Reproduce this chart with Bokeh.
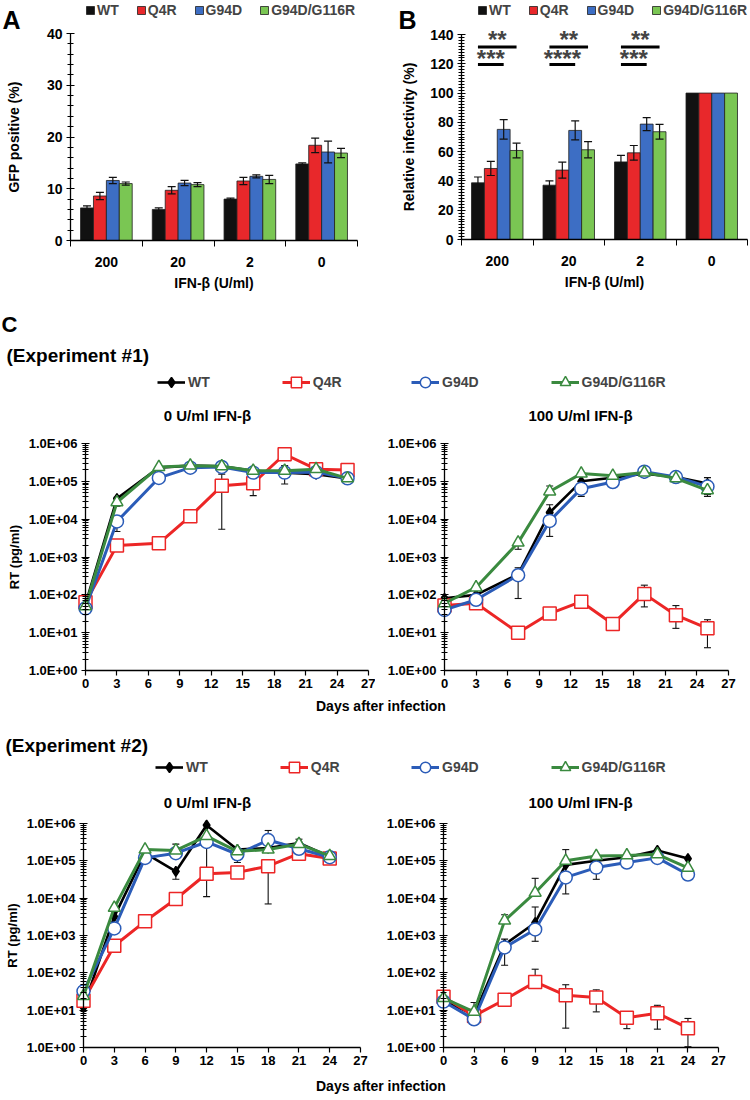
import math
from bokeh.plotting import figure
from bokeh.models import (ColumnDataSource, Whisker, TeeHead, Legend, LegendItem, Label,
                          FixedTicker, CustomJSTickFormatter, Range1d, Div)
from bokeh.layouts import column, row
from bokeh.embed import file_html
from bokeh.resources import INLINE

FONT = "Liberation Sans"

# ---------------- data: panels A and B ----------------
doses = ["200", "20", "2", "0"]
strains = ["WT", "Q4R", "G94D", "G94D/G116R"]

gfp_wt = [6.3, 6.0, 8.0, 14.8]
gfp_wt_err = [0.4, 0.3, 0.2, 0.2]
gfp_q4r = [8.6, 9.7, 11.5, 18.4]
gfp_q4r_err = [0.7, 0.7, 0.7, 1.4]
gfp_g94d = [11.6, 11.1, 12.4, 17.1]
gfp_g94d_err = [0.6, 0.5, 0.3, 2.1]
gfp_dbl = [11.0, 10.8, 11.8, 16.9]
gfp_dbl_err = [0.3, 0.4, 0.8, 0.9]

inf_wt = [38.7, 37.1, 53.0, 100]
inf_wt_err = [4.0, 3.0, 4.5, 0]
inf_q4r = [48.5, 47.4, 59.2, 100]
inf_q4r_err = [4.8, 5.5, 5.0, 0]
inf_g94d = [75.2, 74.5, 78.8, 100]
inf_g94d_err = [6.6, 6.5, 4.5, 0]
inf_dbl = [60.8, 61.3, 73.6, 100]
inf_dbl_err = [5.0, 5.5, 5.0, 0]

sig_groups = [0, 1, 2]
sig_upper_text = ["**", "**", "**"]
sig_lower_text = ["***", "****", "***"]

# ---------------- data: panel C ----------------
days1 = [0, 3, 7, 10, 13, 16, 19, 22, 25]
days2 = [0, 3, 6, 9, 12, 15, 18, 21, 24]

e1_0_wt = [57, 3.5e4, 2.3e5, 2.6e5, 2.5e5, 1.9e5, 1.7e5, 1.55e5, 1.2e5]
e1_0_q4r = [64, 2.0e3, 2.3e3, 1.2e4, 7.6e4, 8.9e4, 5.2e5, 2.1e5, 2.0e5]
e1_0_g94d = [44, 8.7e3, 1.23e5, 2.3e5, 2.4e5, 1.7e5, 1.7e5, 1.75e5, 1.2e5]
e1_0_dbl = [50, 2.8e4, 2.4e5, 2.6e5, 2.5e5, 1.9e5, 1.9e5, 2.1e5, 1.2e5]
e1_0_wt_err = [None, (2.2e4, 3.8e4), None, None, None, None, (8.5e4, 2.6e5), (1.35e5, None), None]
e1_0_q4r_err = [None, None, (1.6e3, None), None, (5.4e3, 1.55e5), (4.2e4, None), None, None, None]
e1_0_g94d_err = [None, (4.7e3, None), None, None, None, None, None, None, None]
e1_0_dbl_err = [None] * 9

e1_100_wt = [81, 100, 3.5e2, 1.5e4, 1.0e5, 1.25e5, 1.6e5, 1.3e5, 8.7e4]
e1_100_q4r = [52, 60, 10, 32, 66, 17, 106, 29, 13]
e1_100_g94d = [40, 74, 3.3e2, 9.0e3, 6.4e4, 9.6e4, 1.8e5, 1.3e5, 7.3e4]
e1_100_dbl = [60, 157, 2.4e3, 5.4e4, 1.6e5, 1.4e5, 1.7e5, 1.2e5, 5.8e4]
e1_100_wt_err = [None, None, (80, 5.2e2), (3.5e3, 2.4e4), (4.0e4, None), None, None, None, (4.5e4, 1.25e5)]
e1_100_q4r_err = [None, None, None, None, None, None, (48, 1.8e2), (13, 52), (4, 22)]
e1_100_g94d_err = [None] * 9
e1_100_dbl_err = [None, None, (1.6e3, None), (None, 7.5e4), None, None, None, None, (4.0e4, None)]

e2_0_wt = [12, 3.2e3, 1.6e5, 5.2e4, 9.0e5, 2.0e5, 2.2e5, 3.0e5, 1.3e5]
e2_0_q4r = [18, 5.3e2, 2.4e3, 9.5e3, 4.5e4, 4.9e4, 7.2e4, 1.55e5, 1.15e5]
e2_0_g94d = [32, 1.55e3, 1.2e5, 1.6e5, 3.2e5, 1.5e5, 3.6e5, 2.1e5, 1.25e5]
e2_0_dbl = [24, 5.5e3, 2.0e5, 1.9e5, 4.6e5, 1.8e5, 2.0e5, 2.8e5, 1.35e5]
e2_0_wt_err = [None, None, None, (3.2e4, None), (1.1e4, None), None, None, (None, 3.8e5), None]
e2_0_q4r_err = [None, None, None, None, None, None, (7e3, None), None, None]
e2_0_g94d_err = [None, None, None, (None, 2.8e5), None, (9e4, None), (None, 6.5e5), None, None]
e2_0_dbl_err = [None] * 9

e2_100_wt = [18, 7.5, 5.7e2, 2.2e3, 7.8e4, 1.0e5, 1.25e5, 1.9e5, 1.15e5]
e2_100_q4r = [23, 7.0, 19, 57, 25, 22, 6.3, 8.3, 3.3]
e2_100_g94d = [17, 5.7, 4.8e2, 1.45e3, 3.6e4, 6.6e4, 9.0e4, 1.2e5, 4.3e4]
e2_100_dbl = [21, 9.0, 2.5e3, 1.4e4, 1.0e5, 1.35e5, 1.4e5, 1.5e5, 6.5e4]
e2_100_wt_err = [None, (None, 16), (1.6e2, 8e2), (7e2, 5.8e3), (1.3e4, 2.0e5), None, None, None, None]
e2_100_q4r_err = [None, None, None, (None, 1.25e2), (3.3, 48), (9, 35), (3.2, 9), (3.1, 13.5), (1.05, 6)]
e2_100_g94d_err = [None, None, None, None, None, (3.2e4, None), None, None, None]
e2_100_dbl_err = [None, None, (None, 3.6e3), (None, 3.4e4), None, None, None, None, None]

day_ticks = [0, 3, 6, 9, 12, 15, 18, 21, 24, 27]
rt_ticks = [1, 10, 100, 1e3, 1e4, 1e5, 1e6]

# ---------------- styles ----------------
bar_colors = ["#111111", "#e8282b", "#3d6ec4", "#7ac653"]
bar_offsets = [-0.27, -0.09, 0.09, 0.27]
bar_width = 0.18
centers = [i + 0.5 for i in range(len(doses))]

line_colors = ["#000000", "#ec2626", "#2b5cb8", "#3a8a3f"]
markers = ["diamond", "square", "circle", "triangle"]
marker_sizes = [10, 13, 13, 12]
marker_fills = ["#000000", "white", "white", "white"]

W = 375  # width of each half of the page


def lin_range(v0, p0, v1, p1, size):
    # value v0 sits at pixel p0, v1 at pixel p1 (pixels from left / bottom of the canvas)
    k = (v1 - v0) / (p1 - p0)
    return Range1d(v0 - p0 * k, v0 + (size - p0) * k)


def log_range(v0, p0, v1, p1, size):
    a, b = math.log10(v0), math.log10(v1)
    k = (b - a) / (p1 - p0)
    return Range1d(10 ** (a - p0 * k), 10 ** (a + (size - p0) * k))


def new_fig(width, height, xr, yr, log=False):
    kw = dict(width=width, height=height, x_range=xr, y_range=yr, output_backend="svg",
              toolbar_location=None, min_border=0, min_border_left=0, min_border_right=0,
              min_border_top=0, min_border_bottom=0)
    if log:
        kw["y_axis_type"] = "log"
    p = figure(**kw)
    p.outline_line_color = None
    p.xgrid.visible = False
    p.ygrid.visible = False
    return p


def style_axis(ax, size):
    ax.axis_line_color = "black"
    ax.axis_line_width = 1.3
    ax.major_tick_line_color = "black"
    ax.minor_tick_line_color = "black"
    ax.major_tick_line_width = 1.2
    ax.minor_tick_line_width = 1.0
    ax.major_label_text_font = FONT
    ax.major_label_text_font_style = "bold"
    ax.major_label_text_font_size = size
    ax.major_label_text_color = "black"
    ax.axis_label_text_font = FONT
    ax.axis_label_text_font_style = "bold"
    ax.axis_label_text_font_size = size
    ax.axis_label_text_color = "black"


def add_label(p, x, y, text, size, align="left", baseline="middle"):
    p.add_layout(Label(x=x, y=y, x_units="screen", y_units="screen", text=text,
                       text_font=FONT, text_font_style="bold", text_font_size=size,
                       text_align=align, text_baseline=baseline, text_color="black"))


def bar_panel(series, errors, ymax, major, minor, ylabel, letter, xr, yr, leg_xy, letter_xy, ylab_standoff):
    p = new_fig(W, 292, xr, yr)
    items = []
    for i in range(4):
        xs = [c + bar_offsets[i] for c in centers]
        src = ColumnDataSource(dict(x=xs, top=series[i]))
        r = p.vbar(x="x", top="top", width=bar_width, source=src, fill_color=bar_colors[i],
                   line_color="#202020", line_width=0.8)
        items.append(LegendItem(label=strains[i], renderers=[r]))
        bx = [x for x, e in zip(xs, errors[i]) if e > 0]
        up = [v + e for v, e in zip(series[i], errors[i]) if e > 0]
        lo = [v - e for v, e in zip(series[i], errors[i]) if e > 0]
        if bx:
            ws = ColumnDataSource(dict(base=bx, upper=up, lower=lo))
            p.add_layout(Whisker(source=ws, base="base", upper="upper", lower="lower", level="overlay",
                                 line_color="#111111", line_width=1.2,
                                 upper_head=TeeHead(size=8, line_color="#111111", line_width=1.2),
                                 lower_head=TeeHead(size=8, line_color="#111111", line_width=1.2)))
    leg = Legend(items=items, location=leg_xy, orientation="horizontal", glyph_width=10, glyph_height=10,
                 label_standoff=2, spacing=17, padding=0, margin=0, border_line_color=None,
                 background_fill_alpha=0, label_text_font=FONT, label_text_font_style="bold",
                 label_text_font_size="14px", label_height=16)
    p.add_layout(leg)
    xa = p.xaxis[0]
    style_axis(xa, "14px")
    xa.fixed_location = 0
    xa.bounds = (0, len(doses))
    xa.ticker = FixedTicker(ticks=centers, minor_ticks=list(range(len(doses) + 1)))
    xa.major_label_overrides = {c: d for c, d in zip(centers, doses)}
    xa.major_tick_in = 0
    xa.major_tick_out = 0
    xa.minor_tick_in = 0
    xa.minor_tick_out = 6
    xa.major_label_standoff = 10
    xa.axis_label = "IFN-\u03b2 (U/ml)"
    xa.axis_label_standoff = 5
    ya = p.yaxis[0]
    style_axis(ya, "14px")
    ya.fixed_location = 0
    ya.bounds = (0, ymax)
    ya.ticker = FixedTicker(ticks=list(range(0, ymax + 1, major)), minor_ticks=list(range(0, ymax + 1, minor)))
    ya.major_tick_in = 4
    ya.major_tick_out = 4
    ya.minor_tick_in = 3
    ya.minor_tick_out = 3
    ya.major_label_standoff = 4
    ya.axis_label = ylabel
    ya.axis_label_standoff = ylab_standoff
    add_label(p, letter_xy[0], letter_xy[1], letter, "25px", baseline="alphabetic")
    return p


pA = bar_panel([gfp_wt, gfp_q4r, gfp_g94d, gfp_dbl], [gfp_wt_err, gfp_q4r_err, gfp_g94d_err, gfp_dbl_err],
               40, 10, 2, "GFP positive (%)", "A",
               lin_range(0, 70, 4, 357, W), lin_range(0, 52, 40, 259, 292), (85, 274), (2, 273), 22)
pB = bar_panel([inf_wt, inf_q4r, inf_g94d, inf_dbl], [inf_wt_err, inf_q4r_err, inf_g94d_err, inf_dbl_err],
               140, 20, 2, "Relative infectivity (%)", "B",
               lin_range(0, 86, 4, 372, W), lin_range(0, 53, 140, 258, 292), (102, 274), (23, 273), 10)

for g, ut, lt in zip(sig_groups, sig_upper_text, sig_lower_text):
    c = centers[g]
    pB.segment(x0=[c + bar_offsets[0]], x1=[c + bar_offsets[3]], y0=[131.5], y1=[131.5],
               line_color="black", line_width=3)
    pB.segment(x0=[c + bar_offsets[0]], x1=[c + bar_offsets[2]], y0=[119.5], y1=[119.5],
               line_color="black", line_width=3)
    pB.add_layout(Label(x=c, y=136.5, text=ut, text_align="center", text_baseline="alphabetic",
                        text_font=FONT, text_font_style="bold", text_font_size="24px"))
    pB.add_layout(Label(x=c + (bar_offsets[0] + bar_offsets[2]) / 2, y=123.5, text=lt, text_align="center",
                        text_baseline="alphabetic", text_font=FONT, text_font_style="bold",
                        text_font_size="24px"))

fmt = CustomJSTickFormatter(code="""
const s = Number(tick).toExponential(1).toUpperCase();
const m = s.match(/^(.*E[+-])(\\d+)$/);
if (m && m[2].length < 2) { return m[1] + '0' + m[2]; }
return s;
""")


def line_panel(days, series, errs, height, xr, yr, leg_idx, leg_xy, title, title_xy, ylabel):
    p = new_fig(W, height, xr, yr, log=True)
    rends = []
    for i in range(4):
        vals = series[i]
        bx, up, lo = [], [], []
        for d, v, e in zip(days, vals, errs[i]):
            if e is None:
                continue
            bx.append(d)
            lo.append(v if e[0] is None else e[0])
            up.append(v if e[1] is None else e[1])
        if bx:
            ws = ColumnDataSource(dict(base=bx, upper=up, lower=lo))
            p.add_layout(Whisker(source=ws, base="base", upper="upper", lower="lower", level="underlay",
                                 line_color="#111111", line_width=1.1,
                                 upper_head=TeeHead(size=7, line_color="#111111", line_width=1.1),
                                 lower_head=TeeHead(size=7, line_color="#111111", line_width=1.1)))
    for i in range(4):
        src = ColumnDataSource(dict(x=days, y=series[i]))
        lr = p.line("x", "y", source=src, line_color=line_colors[i], line_width=3 if i else 2.6)
        sr = p.scatter("x", "y", source=src, marker=markers[i], size=marker_sizes[i],
                       fill_color=marker_fills[i], line_color=line_colors[i], line_width=1.5)
        rends.append((lr, sr))
    items = [LegendItem(label=strains[i], renderers=list(rends[i])) for i in leg_idx]
    leg = Legend(items=items, location=leg_xy, orientation="horizontal", glyph_width=28, glyph_height=26,
                 label_standoff=3, spacing=72, padding=0, margin=0, border_line_color=None,
                 background_fill_alpha=0, label_text_font=FONT, label_text_font_style="bold",
                 label_text_font_size="14px", label_height=26)
    p.add_layout(leg)
    xa = p.xaxis[0]
    style_axis(xa, "13px")
    xa.fixed_location = 1
    xa.bounds = (0, 27)
    xa.ticker = FixedTicker(ticks=day_ticks)
    xa.major_tick_in = 0
    xa.major_tick_out = 5
    xa.minor_tick_in = 0
    xa.minor_tick_out = 0
    xa.major_label_standoff = 3
    ya = p.yaxis[0]
    style_axis(ya, "13px")
    ya.fixed_location = 0
    ya.bounds = (1, 1e6)
    ya.ticker = FixedTicker(ticks=rt_ticks,
                            minor_ticks=[k * 10 ** d for d in range(6) for k in range(2, 10)])
    ya.formatter = fmt
    ya.major_tick_in = 4
    ya.major_tick_out = 4
    ya.minor_tick_in = 3
    ya.minor_tick_out = 3
    ya.major_label_standoff = 4
    if ylabel:
        ya.axis_label = "RT (pg/ml)"
        ya.axis_label_standoff = 4
    add_label(p, title_xy[0], title_xy[1], title, "15px", align="center")
    return p


c1l = line_panel(days1, [e1_0_wt, e1_0_q4r, e1_0_g94d, e1_0_dbl],
                 [e1_0_wt_err, e1_0_q4r_err, e1_0_g94d_err, e1_0_dbl_err], 405,
                 lin_range(0, 85, 27, 368, W), log_range(1, 27, 1e6, 254, 405),
                 [0, 1], (157, 302), "0 U/ml IFN-\u03b2", (207, 282), True)
add_label(c1l, 1, 373, "C", "22px")
add_label(c1l, 6, 342, "(Experiment #1)", "19px")
c1r = line_panel(days1, [e1_100_wt, e1_100_q4r, e1_100_g94d, e1_100_dbl],
                 [e1_100_wt_err, e1_100_q4r_err, e1_100_g94d_err, e1_100_dbl_err], 405,
                 lin_range(0, 69, 27, 353, W), log_range(1, 27, 1e6, 254, 405),
                 [2, 3], (36, 302), "100 U/ml IFN-\u03b2", (205, 282), False)

c2l = line_panel(days2, [e2_0_wt, e2_0_q4r, e2_0_g94d, e2_0_dbl],
                 [e2_0_wt_err, e2_0_q4r_err, e2_0_g94d_err, e2_0_dbl_err], 362,
                 lin_range(0, 83, 27, 360, W), log_range(1, 30, 1e6, 254, 362),
                 [0, 1], (155, 297), "0 U/ml IFN-\u03b2", (207, 275), True)
add_label(c2l, 5, 332, "(Experiment #2)", "19px")
c2r = line_panel(days2, [e2_100_wt, e2_100_q4r, e2_100_g94d, e2_100_dbl],
                 [e2_100_wt_err, e2_100_q4r_err, e2_100_g94d_err, e2_100_dbl_err], 362,
                 lin_range(0, 68, 27, 343, W), log_range(1, 30, 1e6, 254, 362),
                 [2, 3], (36, 297), "100 U/ml IFN-\u03b2", (205, 275), False)


def days_div():
    return Div(text='<div style="padding-left:316px;font-family:\'Liberation Sans\';font-weight:bold;'
                    'font-size:14px;line-height:18px;color:black;">Days after infection</div>',
               width=2 * W, height=18, margin=(0, 0, 0, 0))


layout = column(row(pA, pB), row(c1l, c1r), days_div(), row(c2l, c2r), days_div())
open("out.html", "w").write(file_html(layout, INLINE))
